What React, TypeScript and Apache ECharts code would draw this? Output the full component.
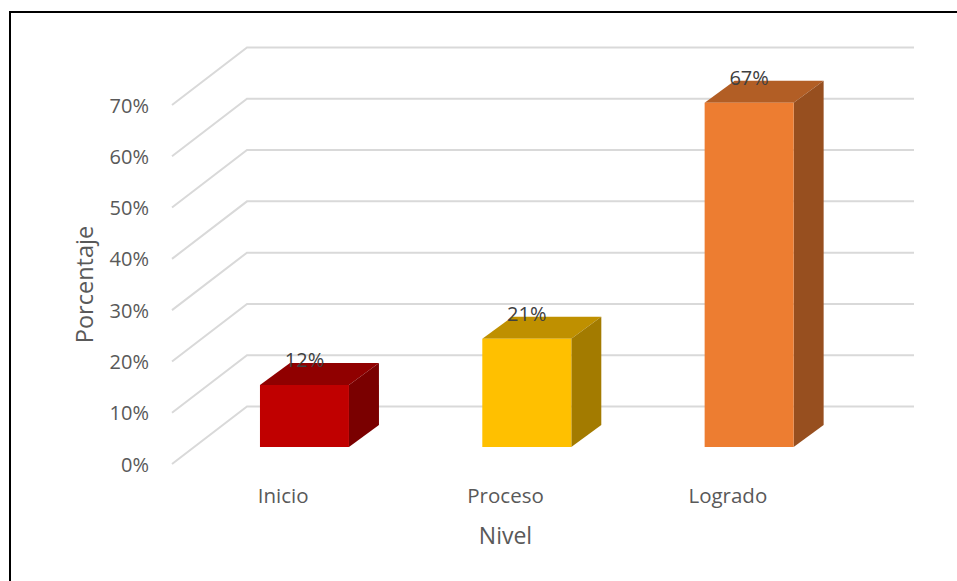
import React, { useEffect, useRef } from "react";
import * as echarts from "echarts";

const categories = ["Inicio", "Proceso", "Logrado"];
const values = [12.1, 21.1, 67.1];
const valueLabels = ["12%", "21%", "67%"];
const ticks = [0, 10, 20, 30, 40, 50, 60, 70];
const frontColors = ["#C00000", "#FFC000", "#ED7D31"];
const topColors = ["#900000", "#BF9000", "#B25E25"];
const sideColors = ["#7A0000", "#A37B00", "#974F1F"];

const FONT = "'Open Sans', 'Noto Sans', sans-serif";
const WALL_DX = 75;
const WALL_DY = -57.5;
const FLOOR_DX = 21.3;
const FLOOR_DY = -17;
const DEPTH_DX = 30;
const DEPTH_DY = -22;
const BAR_W = 89;

export default function App() {
  const ref = useRef<HTMLDivElement>(null);
  useEffect(() => {
    const chart = echarts.init(ref.current!, undefined, { renderer: "svg" });
    chart.setOption({
      animation: false,
      backgroundColor: "#ffffff",
      grid: { left: 172, top: 105, width: 667, height: 359 },
      graphic: [
        {
          type: "polyline",
          silent: true,
          shape: { points: [[10, 581], [10, 12], [957, 12]] },
          style: { fill: "none", stroke: "#000000", lineWidth: 2 },
        },
      ],
      xAxis: {
        type: "category",
        data: categories,
        name: "Nivel",
        nameLocation: "middle",
        nameGap: 59,
        nameTextStyle: { color: "#595959", fontSize: 23, fontFamily: FONT },
        axisLine: { show: false },
        axisTick: { show: false },
        axisLabel: { color: "#595959", fontSize: 20.5, fontFamily: FONT, margin: 20 },
      },
      yAxis: {
        type: "value",
        min: 0,
        max: 70,
        interval: 10,
        name: "Porcentaje",
        nameLocation: "middle",
        nameGap: 76,
        nameTextStyle: { color: "#595959", fontSize: 23.5, fontFamily: FONT },
        axisLine: { show: false },
        axisTick: { show: false },
        splitLine: { show: false },
        axisLabel: {
          color: "#595959",
          fontSize: 20,
          fontFamily: FONT,
          margin: 23,
          padding: [2, 0, 0, 0],
          formatter: (v: number) => v + "%",
        },
      },
      series: [
        {
          type: "custom",
          clip: false,
          silent: true,
          z: 1,
          data: ticks.map((t) => [0, t]),
          renderItem: (_p: any, api: any) => {
            const y = api.coord([0, api.value(1)])[1];
            const left = 172;
            const right = 839;
            return {
              type: "polyline",
              shape: {
                points: [
                  [left, y],
                  [left + WALL_DX, y + WALL_DY],
                  [right + WALL_DX, y + WALL_DY],
                ],
              },
              style: { fill: "none", stroke: "#D9D9D9", lineWidth: 2 },
            };
          },
        },
        {
          type: "custom",
          clip: false,
          silent: true,
          z: 2,
          data: values.map((v, i) => [i, v]),
          renderItem: (p: any, api: any) => {
            const i = p.dataIndex;
            const [cx, yTop] = api.coord([i, api.value(1)]);
            const y0 = api.coord([i, 0])[1];
            const x1 = cx + FLOOR_DX - BAR_W / 2;
            const x2 = x1 + BAR_W;
            const top = yTop + FLOOR_DY;
            const bottom = y0 + FLOOR_DY;
            return {
              type: "group",
              children: [
                {
                  type: "polygon",
                  shape: {
                    points: [
                      [x1, top],
                      [x1 + DEPTH_DX, top + DEPTH_DY],
                      [x2 + DEPTH_DX, top + DEPTH_DY],
                      [x2, top],
                    ],
                  },
                  style: { fill: topColors[i] },
                },
                {
                  type: "polygon",
                  shape: {
                    points: [
                      [x2, top],
                      [x2 + DEPTH_DX, top + DEPTH_DY],
                      [x2 + DEPTH_DX, bottom + DEPTH_DY],
                      [x2, bottom],
                    ],
                  },
                  style: { fill: sideColors[i] },
                },
                {
                  type: "rect",
                  shape: { x: x1, y: top, width: BAR_W, height: bottom - top },
                  style: { fill: frontColors[i] },
                },
                {
                  type: "text",
                  x: x1 + BAR_W / 2,
                  y: top - 25,
                  style: {
                    text: valueLabels[i],
                    fill: "#404040",
                    font: `20px ${FONT}`,
                    textAlign: "center",
                    textVerticalAlign: "middle",
                  },
                },
              ],
            };
          },
        },
      ],
    });
    return () => chart.dispose();
  }, []);
  return <div ref={ref} style={{ position: "fixed", left: 0, top: 0, width: 957, height: 581 }} />;
}
